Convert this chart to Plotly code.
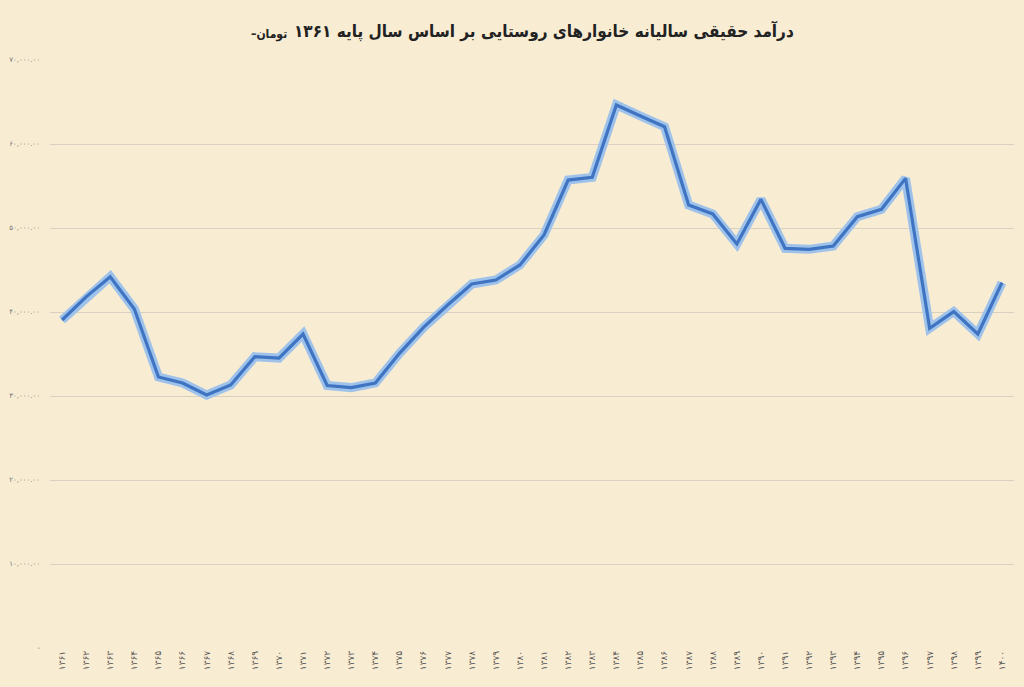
import plotly.graph_objects as go

years = ["۱۳۶۱", "۱۳۶۲", "۱۳۶۳", "۱۳۶۴", "۱۳۶۵", "۱۳۶۶", "۱۳۶۷", "۱۳۶۸", "۱۳۶۹", "۱۳۷۰",
         "۱۳۷۱", "۱۳۷۲", "۱۳۷۳", "۱۳۷۴", "۱۳۷۵", "۱۳۷۶", "۱۳۷۷", "۱۳۷۸", "۱۳۷۹", "۱۳۸۰",
         "۱۳۸۱", "۱۳۸۲", "۱۳۸۳", "۱۳۸۴", "۱۳۸۵", "۱۳۸۶", "۱۳۸۷", "۱۳۸۸", "۱۳۸۹", "۱۳۹۰",
         "۱۳۹۱", "۱۳۹۲", "۱۳۹۳", "۱۳۹۴", "۱۳۹۵", "۱۳۹۶", "۱۳۹۷", "۱۳۹۸", "۱۳۹۹", "۱۴۰۰"]

income = [39050, 41800, 44200, 40360, 32260, 31550, 30120, 31310, 34680, 34520,
          37380, 31250, 31000, 31550, 35080, 38170, 40830, 43330, 43810, 45600,
          49170, 55710, 56030, 64640, 63330, 62060, 52740, 51670, 48100, 53410,
          47580, 47460, 47860, 51350, 52220, 55910, 38060, 40040, 37380, 43490]

ytick_vals = [0, 10000, 20000, 30000, 40000, 50000, 60000, 70000]
ytick_text = ["-", "۱۰,۰۰۰.۰۰", "۲۰,۰۰۰.۰۰", "۳۰,۰۰۰.۰۰", "۴۰,۰۰۰.۰۰",
              "۵۰,۰۰۰.۰۰", "۶۰,۰۰۰.۰۰", "۷۰,۰۰۰.۰۰"]

title_main = "درآمد حقیقی سالیانه خانوارهای روستایی بر اساس سال پایه ۱۳۶۱"
title_unit = "–تومان"

bg = "#f8ecd3"

fig = go.Figure()
# glow
fig.add_trace(go.Scatter(x=years, y=income, mode="lines",
                         line=dict(color="#9ec2ea", width=9),
                         hoverinfo="skip", showlegend=False))
fig.add_trace(go.Scatter(x=years, y=income, mode="lines",
                         line=dict(color="#3f74c2", width=3.2),
                         showlegend=False))

L, R, T, B = 50, 10, 60, 39
W, H = 1024, 687
pw = W - L - R
ph = H - T - B


def px_x(p):
    return (p - L) / pw


def px_y(p):
    return (H - B - p) / ph


fig.update_layout(
    width=W, height=H,
    paper_bgcolor=bg, plot_bgcolor=bg,
    margin=dict(l=L, r=R, t=T, b=B),
    font=dict(family="DejaVu Sans", color="#555"),
    xaxis=dict(type="category", range=[-0.5, len(years) - 0.5],
               showgrid=False, zeroline=False, showline=False,
               tickangle=-90, tickfont=dict(size=9, color="#555"),
               ticks="", automargin=False),
    yaxis=dict(range=[0, 70000], tickvals=ytick_vals, ticktext=ytick_text,
               showgrid=True, gridcolor="#d9d0c2", gridwidth=1, zeroline=False,
               showline=False, ticks="", tickfont=dict(size=7, color="#777"),
               ticklabelstandoff=9, automargin=False),
)

fig.add_annotation(text="<b>" + title_main + "</b>", x=px_x(796), y=px_y(31),
                   xref="paper", yref="paper", xanchor="right", yanchor="middle",
                   showarrow=False,
                   font=dict(size=17, color="#222", family="DejaVu Sans Condensed"))
fig.add_annotation(text="<b>" + title_unit + "</b>", x=px_x(289), y=px_y(34),
                   xref="paper", yref="paper", xanchor="right", yanchor="middle",
                   showarrow=False,
                   font=dict(size=12, color="#222", family="DejaVu Sans Condensed"))

fig.write_html("out.html", config={"displayModeBar": False},
               post_script="document.body.style.margin='0';")
